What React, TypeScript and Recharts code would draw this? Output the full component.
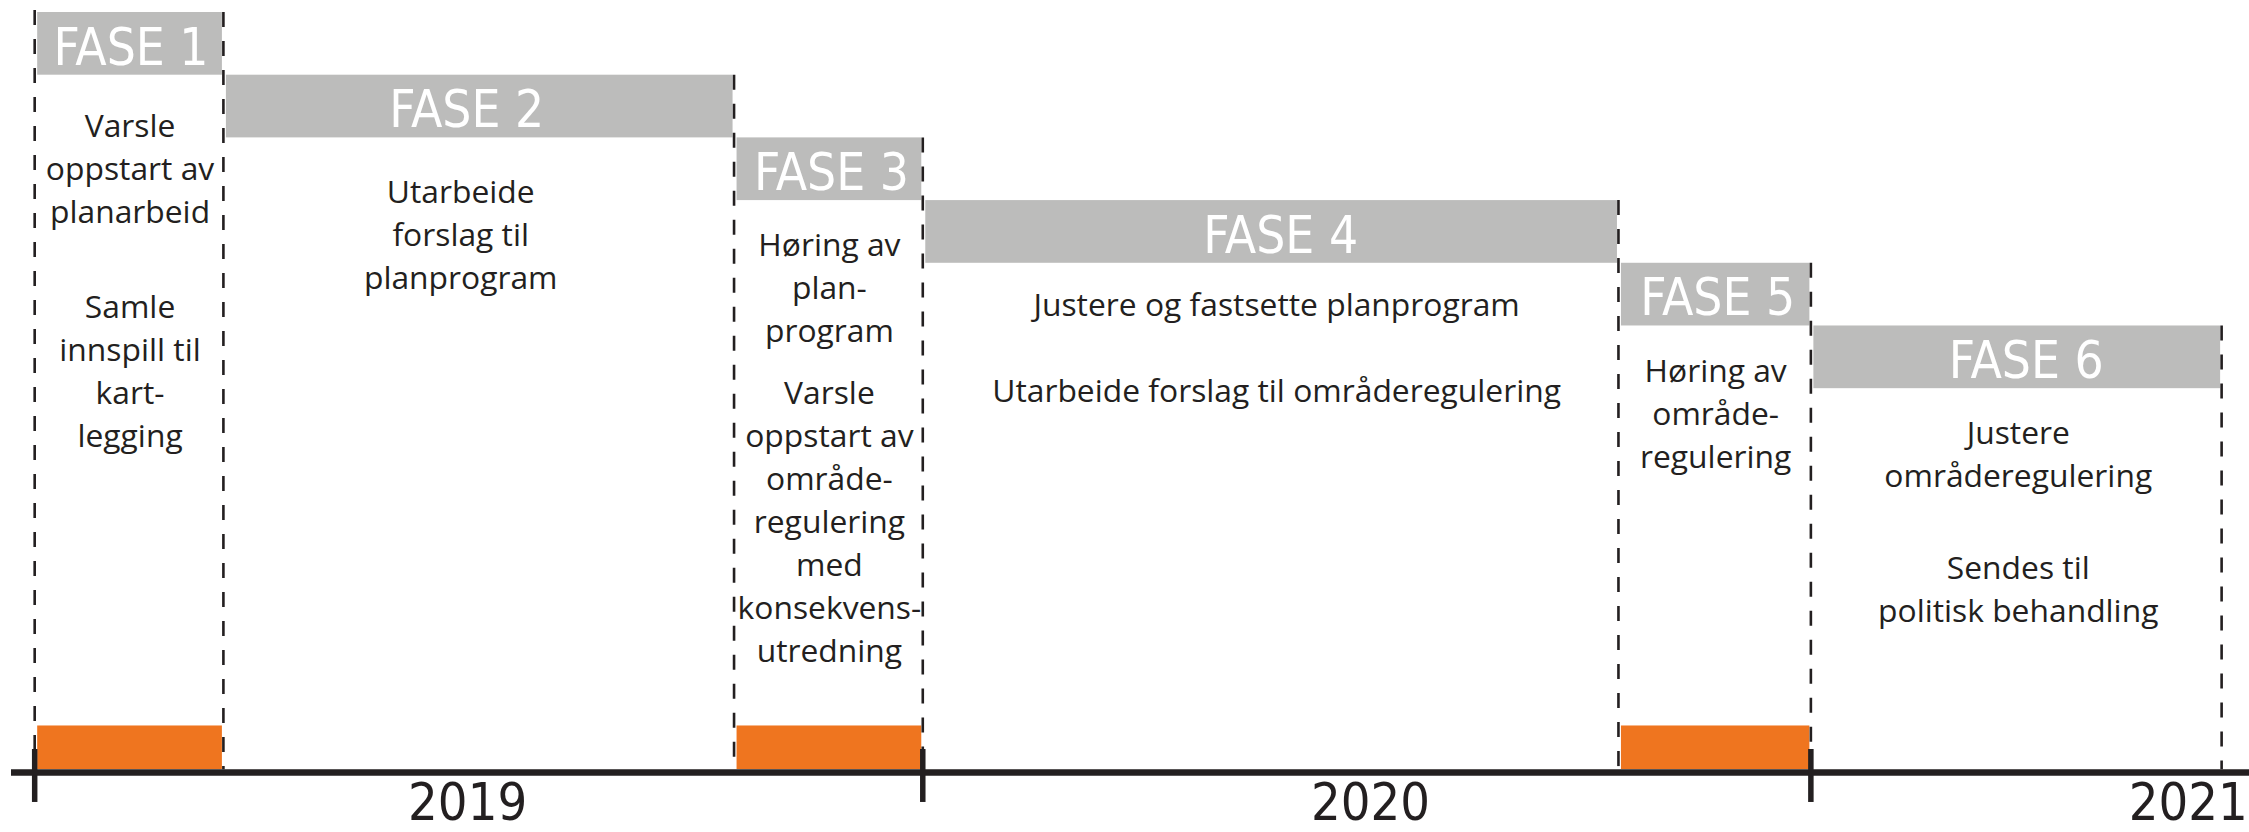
import React from 'react'
import { ComposedChart, ReferenceArea, ReferenceLine, XAxis, YAxis } from 'recharts'

// phases of the planning process, measured in months from the start of 2019
const PHASES = ['FASE 1', 'FASE 2', 'FASE 3', 'FASE 4', 'FASE 5', 'FASE 6']
const PHASE_START = [0, 2.55, 9.45, 12, 21.4, 24]
const PHASE_END = [2.55, 9.45, 12, 21.4, 24, 29.55]
const PHASE_NOTES = [
  [['Varsle', 'oppstart av', 'planarbeid'], ['Samle', 'innspill til', 'kart-', 'legging']],
  [['Utarbeide', 'forslag til', 'planprogram']],
  [
    ['Høring av', 'plan-', 'program'],
    ['Varsle', 'oppstart av', 'område-', 'regulering', 'med', 'konsekvens-', 'utredning']
  ],
  [['Justere og fastsette planprogram'], ['Utarbeide forslag til områderegulering']],
  [['Høring av', 'område-', 'regulering']],
  [['Justere', 'områderegulering'], ['Sendes til', 'politisk behandling']]
]
// phases with public consultation (orange marks on the time line)
const MARKED_PHASES = ['FASE 1', 'FASE 3', 'FASE 5']
const MARK_HEIGHT = 0.75

const YEAR_BOUNDS = [0, 12, 24]
const YEARS = ['2019', '2020', '2021']
const YEAR_LABEL_AT = [5.85, 18.05, 29.1]

// layout
const WIDTH = 2249
const HEIGHT = 832
const Y_TOP = 12.13
const INK = '#231f20'
const GREY = '#bcbcbb'
const ORANGE = '#ef751f'
const BODY_FONT = "'Open Sans', 'Noto Sans', sans-serif"
const NARROW_FONT = "'Liberation Sans Narrow', 'DejaVu Sans Condensed', sans-serif"
const LINE_H = 43
const NOTE_TOP = [62, 65.5, 56, 53.5, 56.5, 56]
const NOTE_GAP = [95, 0, 62, 86, 0, 92]
const LABEL_DX = [2, -12, 3, 10, 3, 10]
const NOTE_DX = [1, -18, 1, 6, 1, 2]

const insetRect = (fill: string) => (p: any) => (
  <rect x={p.x + 2.5} y={p.y} width={Math.max(p.width - 4, 0)} height={p.height} fill={fill} />
)

const PhaseLabel = ({ viewBox, index }: any) => {
  if (!viewBox) return null
  const { x, y, width, height } = viewBox
  const cx = x + width / 2
  const bottom = y + height
  const rows: React.ReactNode[] = []
  let base = bottom + NOTE_TOP[index]
  PHASE_NOTES[index].forEach((para, p) => {
    if (p > 0) base += NOTE_GAP[index] - LINE_H
    para.forEach((line, l) => {
      rows.push(
        <text
          key={`${p}-${l}`}
          x={cx + NOTE_DX[index]}
          y={base}
          textAnchor="middle"
          fill={INK}
          style={{ fontFamily: BODY_FONT, fontSize: 31.8 }}
        >
          {line}
        </text>
      )
      base += LINE_H
    })
  })
  return (
    <g>
      <text
        x={cx + LABEL_DX[index]}
        y={bottom - 10}
        textAnchor="middle"
        fill="#ffffff"
        style={{ fontFamily: NARROW_FONT, fontSize: 51 }}
      >
        {PHASES[index]}
      </text>
      {rows}
    </g>
  )
}

const YearTick = ({ x, y, index }: any) => (
  <text
    x={x}
    y={y + 47}
    textAnchor="middle"
    fill={INK}
    style={{ fontFamily: NARROW_FONT, fontSize: 52 }}
  >
    {YEARS[index]}
  </text>
)

export default function App() {
  return (
    <div style={{ width: WIDTH, height: HEIGHT, background: '#fff' }}>
      <style>{'body{margin:0}'}</style>
      <ComposedChart
        width={WIDTH}
        height={HEIGHT}
        data={[]}
        margin={{ top: 12, right: 0, bottom: 0, left: 11 }}
      >
        <XAxis
          type="number"
          dataKey="x"
          domain={[-0.32, 29.92]}
          allowDataOverflow
          ticks={YEAR_LABEL_AT}
          interval={0}
          height={59.5}
          tickLine={false}
          tickSize={0}
          tickMargin={0}
          axisLine={{ stroke: INK, strokeWidth: 6.5 }}
          tick={(p: any) => <YearTick {...p} />}
        />
        <YAxis type="number" domain={[0, Y_TOP]} allowDataOverflow hide />

        {PHASES.map((name, i) => (
          <ReferenceArea
            key={name}
            x1={PHASE_START[i]}
            x2={PHASE_END[i]}
            y1={Y_TOP - i - 1}
            y2={Y_TOP - i}
            ifOverflow="visible"
            shape={insetRect(GREY)}
            label={<PhaseLabel index={i} />}
          />
        ))}

        {PHASES.filter((name) => MARKED_PHASES.includes(name)).map((name) => {
          const i = PHASES.indexOf(name)
          return (
            <ReferenceArea
              key={`mark-${name}`}
              x1={PHASE_START[i]}
              x2={PHASE_END[i]}
              y1={0.055}
              y2={MARK_HEIGHT}
              ifOverflow="visible"
              shape={insetRect(ORANGE)}
            />
          )
        })}

        <ReferenceLine
          segment={[
            { x: PHASE_START[0], y: Y_TOP + 0.03 },
            { x: PHASE_START[0], y: 0.05 }
          ]}
          stroke={INK}
          strokeWidth={2.6}
          strokeDasharray="15 14"
          ifOverflow="visible"
        />
        {PHASES.map((name, i) => (
          <ReferenceLine
            key={`end-${name}`}
            segment={[
              { x: PHASE_END[i], y: Y_TOP - i },
              { x: PHASE_END[i], y: 0.05 }
            ]}
            stroke={INK}
            strokeWidth={2.6}
            strokeDasharray="15 14"
            ifOverflow="visible"
          />
        ))}

        {YEAR_BOUNDS.map((m) => (
          <ReferenceLine
            key={`tick-${m}`}
            segment={[
              { x: m, y: 0.375 },
              { x: m, y: -0.47 }
            ]}
            stroke={INK}
            strokeWidth={5.5}
            ifOverflow="visible"
          />
        ))}
      </ComposedChart>
    </div>
  )
}
